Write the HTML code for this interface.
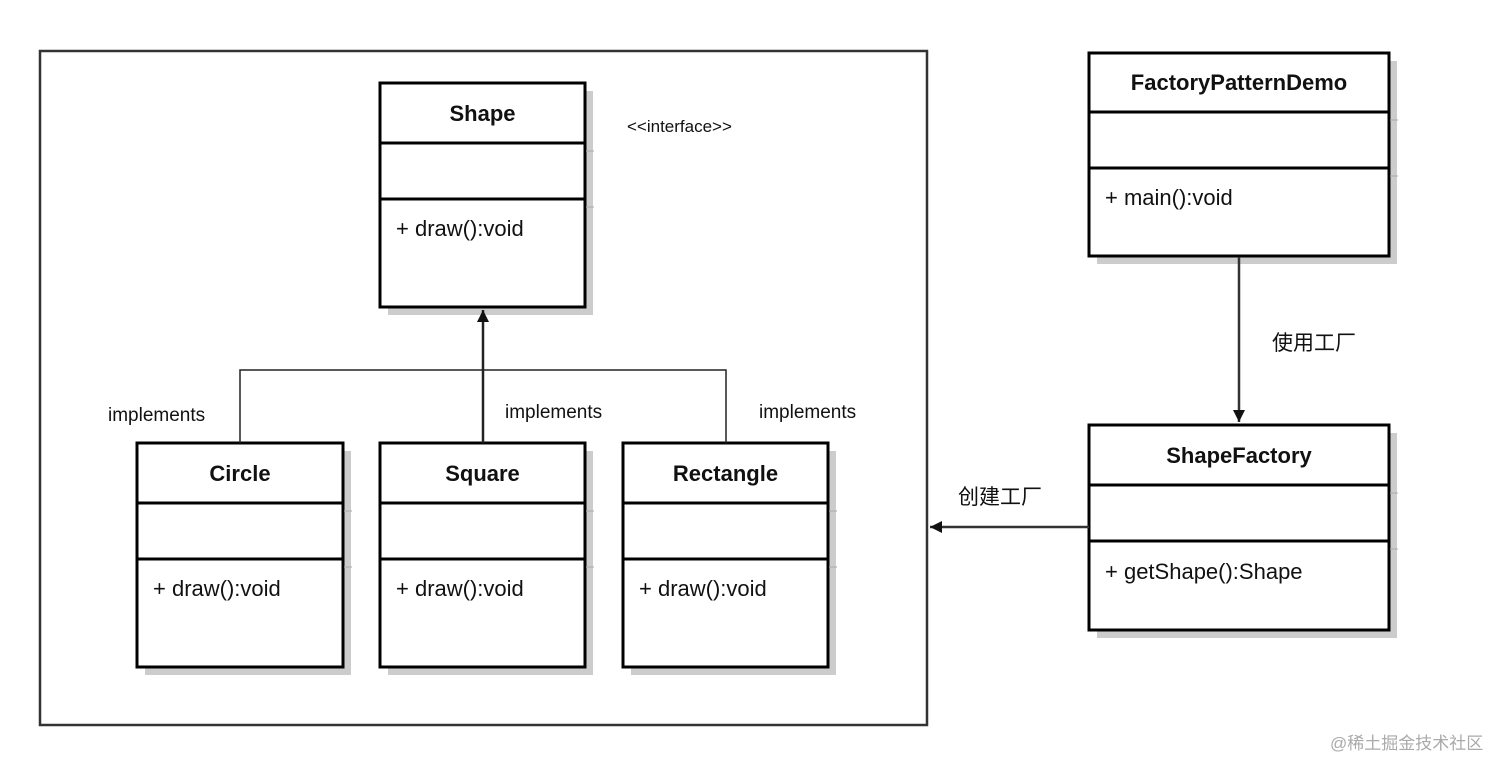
<!DOCTYPE html>
<html><head><meta charset="utf-8"><style>
html,body{margin:0;padding:0;background:#fff;}
svg{display:block;}
.t{font-family:"Liberation Sans","Noto Sans CJK SC",sans-serif;fill:#111;}
</style></head><body>
<svg width="1512" height="773" viewBox="0 0 1512 773" xmlns="http://www.w3.org/2000/svg">
<defs>
<marker id="a" markerWidth="14" markerHeight="14" refX="12" refY="6" orient="auto" markerUnits="userSpaceOnUse">
<path d="M0,0 L12,6 L0,12 Z" fill="#111"/></marker>
</defs>
<!-- outer frame -->
<rect x="40" y="51" width="887" height="674" fill="none" stroke="#333" stroke-width="2.5"/>

<!-- class boxes -->
<g id="boxes">
<!-- Shape -->
<rect x="388" y="91" width="205" height="224" fill="#ccc"/>
<rect x="380" y="83" width="205" height="224" fill="#fff" stroke="#000" stroke-width="3"/>
<line x1="380" y1="143" x2="585" y2="143" stroke="#000" stroke-width="3"/>
<line x1="380" y1="199" x2="585" y2="199" stroke="#000" stroke-width="3"/>
<line x1="586" y1="151" x2="594" y2="151" stroke="#aaa"/><line x1="586" y1="207" x2="594" y2="207" stroke="#aaa"/>
<text class="t" x="482.5" y="121" text-anchor="middle" font-size="22" font-weight="bold">Shape</text>
<text class="t" x="396" y="236" font-size="22">+ draw():void</text>

<!-- Circle -->
<rect x="145" y="451" width="206" height="224" fill="#ccc"/>
<rect x="137" y="443" width="206" height="224" fill="#fff" stroke="#000" stroke-width="3"/>
<line x1="137" y1="503" x2="343" y2="503" stroke="#000" stroke-width="3"/>
<line x1="137" y1="559" x2="343" y2="559" stroke="#000" stroke-width="3"/>
<line x1="344" y1="511" x2="352" y2="511" stroke="#aaa"/><line x1="344" y1="567" x2="352" y2="567" stroke="#aaa"/>
<text class="t" x="240" y="481" text-anchor="middle" font-size="22" font-weight="bold">Circle</text>
<text class="t" x="153" y="596" font-size="22">+ draw():void</text>

<!-- Square -->
<rect x="388" y="451" width="205" height="224" fill="#ccc"/>
<rect x="380" y="443" width="205" height="224" fill="#fff" stroke="#000" stroke-width="3"/>
<line x1="380" y1="503" x2="585" y2="503" stroke="#000" stroke-width="3"/>
<line x1="380" y1="559" x2="585" y2="559" stroke="#000" stroke-width="3"/>
<line x1="586" y1="511" x2="594" y2="511" stroke="#aaa"/><line x1="586" y1="567" x2="594" y2="567" stroke="#aaa"/>
<text class="t" x="482.5" y="481" text-anchor="middle" font-size="22" font-weight="bold">Square</text>
<text class="t" x="396" y="596" font-size="22">+ draw():void</text>

<!-- Rectangle -->
<rect x="631" y="451" width="205" height="224" fill="#ccc"/>
<rect x="623" y="443" width="205" height="224" fill="#fff" stroke="#000" stroke-width="3"/>
<line x1="623" y1="503" x2="828" y2="503" stroke="#000" stroke-width="3"/>
<line x1="623" y1="559" x2="828" y2="559" stroke="#000" stroke-width="3"/>
<line x1="829" y1="511" x2="837" y2="511" stroke="#aaa"/><line x1="829" y1="567" x2="837" y2="567" stroke="#aaa"/>
<text class="t" x="725.5" y="481" text-anchor="middle" font-size="22" font-weight="bold">Rectangle</text>
<text class="t" x="639" y="596" font-size="22">+ draw():void</text>

<!-- FactoryPatternDemo -->
<rect x="1097" y="61" width="300" height="203" fill="#ccc"/>
<rect x="1089" y="53" width="300" height="203" fill="#fff" stroke="#000" stroke-width="3"/>
<line x1="1089" y1="112" x2="1389" y2="112" stroke="#000" stroke-width="3"/>
<line x1="1089" y1="168" x2="1389" y2="168" stroke="#000" stroke-width="3"/>
<line x1="1390" y1="120" x2="1398" y2="120" stroke="#aaa"/><line x1="1390" y1="176" x2="1398" y2="176" stroke="#aaa"/>
<text class="t" x="1239" y="90" text-anchor="middle" font-size="22" font-weight="bold">FactoryPatternDemo</text>
<text class="t" x="1105" y="205" font-size="22">+ main():void</text>

<!-- ShapeFactory -->
<rect x="1097" y="433" width="300" height="205" fill="#ccc"/>
<rect x="1089" y="425" width="300" height="205" fill="#fff" stroke="#000" stroke-width="3"/>
<line x1="1089" y1="485" x2="1389" y2="485" stroke="#000" stroke-width="3"/>
<line x1="1089" y1="541" x2="1389" y2="541" stroke="#000" stroke-width="3"/>
<line x1="1390" y1="493" x2="1398" y2="493" stroke="#aaa"/><line x1="1390" y1="549" x2="1398" y2="549" stroke="#aaa"/>
<text class="t" x="1239" y="463" text-anchor="middle" font-size="22" font-weight="bold">ShapeFactory</text>
<text class="t" x="1105" y="579" font-size="22">+ getShape():Shape</text>
</g>

<!-- connectors -->
<line x1="483" y1="443" x2="483" y2="310" stroke="#222" stroke-width="2.5" marker-end="url(#a)"/>
<polyline points="240,443 240,370 726,370 726,443" fill="none" stroke="#222" stroke-width="1.5"/>
<line x1="1239" y1="257" x2="1239" y2="422" stroke="#333" stroke-width="2.5" marker-end="url(#a)"/>
<line x1="1089" y1="527" x2="930" y2="527" stroke="#333" stroke-width="2.5" marker-end="url(#a)"/>

<!-- labels -->
<text class="t" x="627" y="132" font-size="17">&lt;&lt;interface&gt;&gt;</text>
<text class="t" x="108" y="421" font-size="19">implements</text>
<text class="t" x="505" y="418" font-size="19">implements</text>
<text class="t" x="759" y="418" font-size="19">implements</text>
<text class="t" x="1272" y="350" font-size="21">使用工厂</text>
<text class="t" x="958" y="504" font-size="21">创建工厂</text>
<text x="1330" y="749" font-size="17" fill="#aaa" font-family="'Liberation Sans','Noto Sans CJK SC',sans-serif">@稀土掘金技术社区</text>
</svg>
</body></html>
